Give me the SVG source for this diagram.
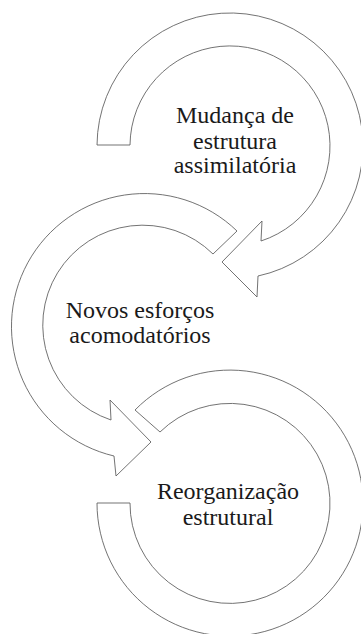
<svg xmlns="http://www.w3.org/2000/svg" width="361" height="634" viewBox="0 0 361 634">
<style>
.arrow{fill:#ffffff;stroke:#5a5a5a;stroke-width:0.85;stroke-linejoin:miter}
.lbl{font-family:'Liberation Serif','Times New Roman',serif;font-size:24px;fill:#1a1a1a;text-anchor:middle}
</style>
<rect x="0" y="0" width="361" height="634" fill="#ffffff"/>
<g id="connectors"></g>
<g id="node-mudanca">
<path class="arrow" d="M 130 145 L 97 145 A 133 133 0 1 1 258 276 L 257 297 L 222 262 L 262 221 L 261 241 A 100 100 0 1 0 130 145 Z"/>
<text class="lbl" x="235" y="123">Mudança de</text>
<text class="lbl" x="235" y="149">estrutura</text>
<text class="lbl" x="235" y="173">assimilatória</text>
</g>
<g id="node-novos">
<path class="arrow" d="M 213 254 L 237 231 A 133 133 0 1 0 114 456 L 116 476 L 151 442 L 110 400 L 111 420 A 100 100 0 1 1 213 254 Z"/>
<text class="lbl" x="140" y="318">Novos esforços</text>
<text class="lbl" x="140" y="343">acomodatórios</text>
</g>
<g id="node-reorganizacao">
<path class="arrow" d="M 130 503 L 97 503 A 133 133 0 1 0 135 410 L 160 432 A 100 100 0 1 1 130 503 Z"/>
<text class="lbl" x="228" y="499">Reorganização</text>
<text class="lbl" x="228" y="525">estrutural</text>
</g>
</svg>
